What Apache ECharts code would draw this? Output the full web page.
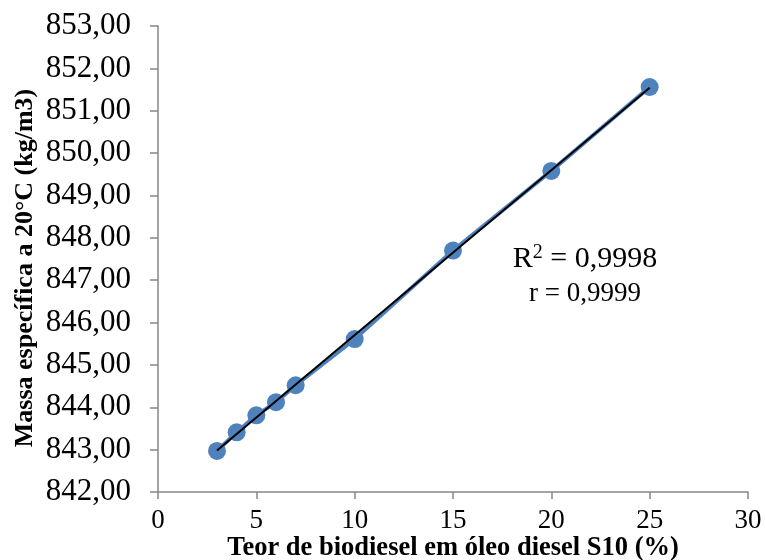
<!DOCTYPE html>
<html><head><meta charset="utf-8">
<script src="https://cdn.jsdelivr.net/npm/echarts@6/dist/echarts.min.js"></script>
<style>html,body{margin:0;padding:0;background:#fff}#c{width:765px;height:560px}</style>
</head><body><div id="c"></div>
<script>
var teor = [3, 4, 5, 6, 7, 10, 15, 20, 25];
var massa = [842.97, 843.41, 843.81, 844.12, 844.52, 845.61, 847.70, 849.58, 851.56];
var xTicks = [0, 5, 10, 15, 20, 25, 30];
var yTicks = [842, 843, 844, 845, 846, 847, 848, 849, 850, 851, 852, 853];
var r2Text = "0,9998";
var rText = "0,9999";

// linear trendline (least squares) from the data
var n = teor.length, sx = 0, sy = 0, sxx = 0, sxy = 0;
for (var i = 0; i < n; i++) { sx += teor[i]; sy += massa[i]; sxx += teor[i]*teor[i]; sxy += teor[i]*massa[i]; }
var slope = (n*sxy - sx*sy) / (n*sxx - sx*sx);
var icpt = (sy - slope*sx) / n;
var xmin = Math.min.apply(null, teor), xmax = Math.max.apply(null, teor);
var trend = [[xmin, icpt + slope*xmin], [xmax, icpt + slope*xmax]];

var pts = teor.map(function(x, i){ return [x, massa[i]]; });
var font = "'Liberation Serif', 'Times New Roman', serif";
var chart = echarts.init(document.getElementById('c'));
chart.setOption({
  animation: false,
  backgroundColor: '#ffffff',
  grid: { left: 158, right: 17, top: 26, bottom: 68, containLabel: false, outerBoundsMode: 'none' },
  xAxis: {
    type: 'value', min: xTicks[0], max: xTicks[xTicks.length-1], interval: 5,
    name: 'Teor de biodiesel em óleo diesel S10 (%)', nameLocation: 'middle', nameGap: 43,
    nameMoveOverlap: false,
    nameTextStyle: { fontFamily: font, fontWeight: 'bold', fontSize: 26.5, color: '#000' },
    axisLine: { show: true, lineStyle: { color: '#868686', width: 1.5 } },
    axisTick: { show: true, inside: false, length: 7, lineStyle: { color: '#868686', width: 1.5 } },
    axisLabel: { fontFamily: font, fontSize: 27, color: '#000', margin: 15 },
    splitLine: { show: false }
  },
  yAxis: {
    type: 'value', min: yTicks[0], max: yTicks[yTicks.length-1], interval: 1,
    name: 'Massa específica a 20°C (kg/m3)', nameLocation: 'middle', nameGap: 120,
    nameMoveOverlap: false,
    nameTextStyle: { fontFamily: font, fontWeight: 'bold', fontSize: 26, color: '#000', padding: [0, 18, 0, 0] },
    axisLine: { show: true, lineStyle: { color: '#868686', width: 1.5 } },
    axisTick: { show: true, inside: false, length: 8, lineStyle: { color: '#868686', width: 1.5 } },
    axisLabel: { fontFamily: font, fontSize: 31, color: '#000', margin: 27,
      formatter: function(v){ return v.toFixed(2).replace('.', ','); } },
    splitLine: { show: false }
  },
  series: [
    { type: 'line', data: pts, symbol: 'circle', symbolSize: 18,
      itemStyle: { color: '#4F81BD' }, lineStyle: { color: '#4F81BD', width: 4 }, z: 2 },
    { type: 'line', data: trend, symbol: 'none', lineStyle: { color: '#000', width: 2 }, z: 3 }
  ],
  graphic: [
    { type: 'text', x: 585, y: 243, style: {
        text: '{n|R}{s|2}{n| = ' + r2Text + '}', align: 'center',
        rich: { n: { fontFamily: font, fontSize: 30, fill: '#000' },
                s: { fontFamily: font, fontSize: 20, fill: '#000', verticalAlign: 'top', padding: [0,0,12,0] } } } },
    { type: 'text', x: 585, y: 280, style: {
        text: 'r = ' + rText, align: 'center', fontFamily: font, fontSize: 27, fill: '#000' } }
  ]
});
</script></body></html>
